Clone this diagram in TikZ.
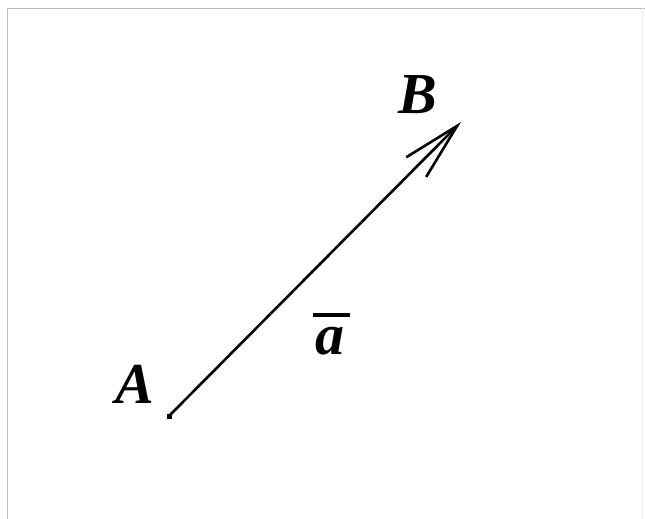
\documentclass[tikz,border=0pt]{standalone}
\usepackage{fontspec}
\setmainfont{Liberation Serif}
\usetikzlibrary{arrows.meta}

\begin{document}
\begin{tikzpicture}[
    x=1pt, y=-1pt,
    frame/.style={draw=black!28, line width=1.2pt},
    lbl/.style={inner sep=0pt, font=\fontsize{58}{60}\selectfont\bfseries\itshape},
    vec/.style={-{Straight Barb[length=58pt, width=28pt, line width=2.6pt]}, line width=2.6pt},
    bar/.style={line width=4pt}
]
\useasboundingbox (0,0) rectangle (645,519);
\draw[frame] (7.5,519) -- (7.5,8.5) -- (645,8.5);
\draw[draw=black!6, line width=1pt] (642,8.5) -- (642,519);

\coordinate (A) at (169,416);
\coordinate (B) at (461,122);
\node[lbl] (lblA) at (135,384) {A};
\node[lbl] (lblB) at (418,95) {B};
\node[lbl] (lbla) at (330,341) {a};

\draw[vec] (A) -- (B);
\fill (A) +(-2.5,-2.5) rectangle +(2.5,2.5);
\draw[bar] (313,315) -- (350,315);
\end{tikzpicture}
\end{document}
